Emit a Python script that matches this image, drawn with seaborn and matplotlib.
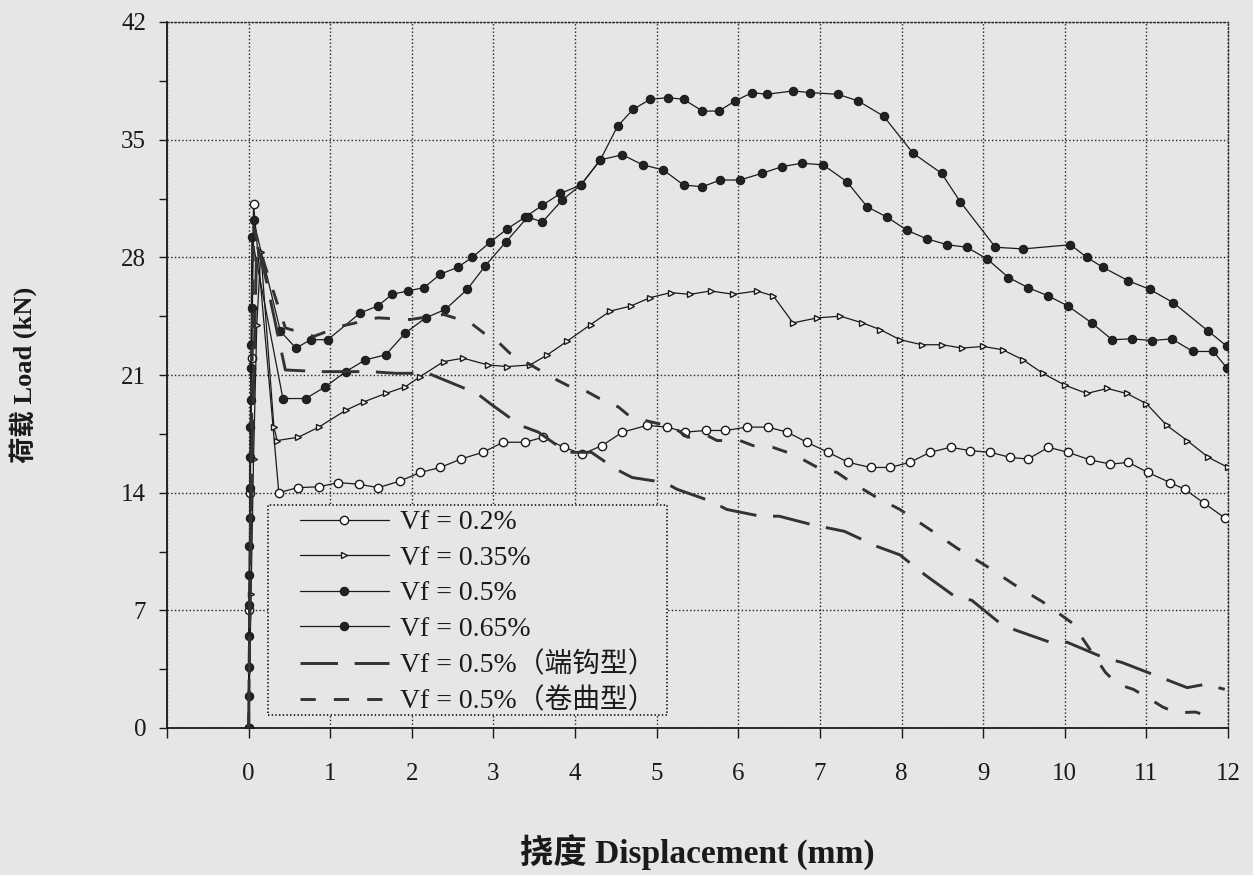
import matplotlib
matplotlib.use("Agg")
import matplotlib.pyplot as plt
import seaborn as sns
import pandas as pd
from matplotlib.patches import Rectangle

# ---------------- data ----------------
labels = ["Vf = 0.2%", "Vf = 0.35%", "Vf = 0.5%", "Vf = 0.65%",
          "Vf = 0.5%\uff08端钩型\uff09", "Vf = 0.5%\uff08卷曲型\uff09"]

x_02 = [0, 0.01, 0.02, 0.04, 0.06, 0.37, 0.6, 0.86, 1.1, 1.35, 1.59, 1.86, 2.1, 2.35, 2.6, 2.87,
        3.12, 3.39, 3.61, 3.86, 4.09, 4.33, 4.58, 4.88, 5.13, 5.35, 5.6, 5.84, 6.11, 6.36, 6.6,
        6.84, 7.1, 7.35, 7.62, 7.86, 8.1, 8.35, 8.6, 8.84, 9.09, 9.33, 9.55, 9.8, 10.04, 10.31,
        10.56, 10.78, 11.02, 11.29, 11.47, 11.7, 11.96]
y_02 = [0, 7, 14, 22, 31.2, 14.0, 14.3, 14.35, 14.6, 14.5, 14.3, 14.7, 15.2, 15.5, 16.0, 16.4,
        17.0, 17.0, 17.3, 16.7, 16.3, 16.8, 17.6, 18.0, 17.9, 17.6, 17.7, 17.7, 17.9, 17.9, 17.6,
        17.0, 16.4, 15.8, 15.5, 15.5, 15.8, 16.4, 16.7, 16.5, 16.4, 16.1, 16.0, 16.7, 16.4, 15.95,
        15.7, 15.8, 15.2, 14.6, 14.2, 13.4, 12.5]

x_035 = [0, 0.03, 0.06, 0.1, 0.15, 0.31, 0.35, 0.61, 0.86, 1.19, 1.41, 1.68, 1.92, 2.1, 2.39,
         2.63, 2.93, 3.17, 3.45, 3.66, 3.9, 4.19, 4.43, 4.68, 4.92, 5.17, 5.41, 5.66, 5.94, 6.23,
         6.43, 6.67, 6.97, 7.25, 7.52, 7.74, 7.98, 8.25, 8.5, 8.74, 9.0, 9.24, 9.49, 9.73, 10.0,
         10.27, 10.52, 10.76, 11.0, 11.25, 11.5, 11.76, 12.0]
y_035 = [0, 8, 16, 24, 28.3, 17.9, 17.1, 17.3, 17.9, 18.9, 19.4, 19.9, 20.3, 20.9, 21.8,
         22.0, 21.6, 21.5, 21.6, 22.2, 23.0, 24.0, 24.8, 25.1, 25.6, 25.9, 25.8, 26.0, 25.8, 26.0,
         25.7, 24.1, 24.4, 24.5, 24.1, 23.7, 23.1, 22.8, 22.8, 22.6, 22.7, 22.5, 21.9, 21.1, 20.4,
         19.9, 20.2, 19.9, 19.3, 18.0, 17.1, 16.1, 15.5]

x_05 = [0, 0.0, 0.005, 0.01, 0.015, 0.02, 0.03, 0.04, 0.06, 0.39, 0.58, 0.76, 0.97, 1.37, 1.58,
        1.76, 1.95, 2.15, 2.35, 2.56, 2.74, 2.96, 3.17, 3.39, 3.6, 3.82, 4.07, 4.31, 4.58, 4.83,
        5.08, 5.33, 5.56, 5.78, 6.02, 6.29, 6.54, 6.78, 7.04, 7.33, 7.58, 7.82, 8.07, 8.31, 8.56,
        8.8, 9.05, 9.31, 9.55, 9.8, 10.04, 10.33, 10.58, 10.82, 11.07, 11.31, 11.57, 11.82, 11.99]
y_05 = [0, 3.6, 7.3, 10.8, 14.3, 17.9, 21.4, 25.0, 30.2, 23.6, 22.6, 23.1, 23.1, 24.7, 25.1,
        25.8, 26.0, 26.2, 27.0, 27.4, 28.0, 28.9, 29.7, 30.4, 31.1, 31.8, 32.3, 33.8, 34.1, 33.5,
        33.2, 32.3, 32.2, 32.6, 32.6, 33.0, 33.4, 33.6, 33.5, 32.5, 31.0, 30.4, 29.6, 29.1, 28.75,
        28.6, 27.9, 26.8, 26.2, 25.7, 25.1, 24.1, 23.1, 23.15, 23.05, 23.15, 22.4, 22.4, 21.4]

x_065 = [0, 0.0, 0.005, 0.01, 0.015, 0.02, 0.025, 0.03, 0.04, 0.42, 0.7, 0.94, 1.19, 1.43, 1.68,
         1.92, 2.17, 2.41, 2.68, 2.9, 3.15, 3.42, 3.6, 3.84, 4.07, 4.31, 4.52, 4.71, 4.92, 5.14,
         5.33, 5.56, 5.76, 5.96, 6.17, 6.35, 6.67, 6.88, 7.22, 7.47, 7.78, 8.14, 8.49, 8.72, 9.15,
         9.49, 10.07, 10.27, 10.47, 10.78, 11.04, 11.33, 11.76, 11.99]
y_065 = [0, 1.9, 5.5, 9.1, 12.5, 16.1, 19.5, 22.8, 29.2, 19.6, 19.6, 20.3, 21.2, 21.9, 22.2,
         23.5, 24.4, 24.9, 26.1, 27.5, 28.9, 30.4, 30.1, 31.4, 32.3, 33.8, 35.8, 36.8, 37.4, 37.5,
         37.4, 36.7, 36.7, 37.3, 37.8, 37.7, 37.9, 37.8, 37.7, 37.3, 36.4, 34.2, 33.0, 31.3, 28.6,
         28.5, 28.75, 28.0, 27.4, 26.6, 26.1, 25.3, 23.6, 22.7]

x_hook = [0, 0.03, 0.1, 0.2, 0.45, 0.88, 1.1, 1.5, 1.8, 2.2, 2.4, 2.8, 2.96, 3.33, 3.55, 3.9,
          4.2, 4.5, 4.7, 5.1, 5.25, 5.66, 5.86, 6.27, 6.5, 6.9, 7.3, 7.7, 7.98, 8.29, 8.66, 8.86,
          9.24, 9.41, 9.82, 10.03, 10.47, 10.7, 11.5, 11.72, 11.96]
y_hook = [0, 14, 28.8, 27.0, 21.3, 21.2, 21.2, 21.2, 21.1, 21.1, 20.7, 19.9, 19.3, 18.0, 17.6, 16.4,
          16.4, 15.4, 14.9, 14.6, 14.2, 13.5, 13.0, 12.6, 12.6, 12.1, 11.7, 10.8, 10.3, 9.1, 7.8, 7.6,
          6.1, 5.8, 5.1, 5.1, 4.2, 3.9, 2.4, 2.6, 2.3]

x_crimp = [0, 0.03, 0.06, 0.2, 0.45, 0.8, 1.13, 1.58, 1.98, 2.39, 2.72, 2.88, 3.05, 3.2, 3.78,
           3.94, 4.15, 4.3, 4.53, 4.68, 5.2, 5.38, 5.62, 5.74, 6.02, 6.18, 6.42, 6.6, 6.8, 6.97,
           7.21, 7.33, 7.53, 7.7, 7.98, 8.35, 8.68, 9.05, 9.39, 9.73, 10.09, 10.5, 10.65, 10.84,
           11.0, 11.2, 11.37, 11.6, 11.8]
y_crimp = [0, 15, 29.8, 27.5, 23.8, 23.3, 23.9, 24.4, 24.3, 24.6, 24.1, 23.5, 23.0, 22.3, 20.7,
           20.3, 20.0, 19.6, 19.1, 18.5, 17.9, 17.3, 17.4, 17.1, 17.1, 16.8, 16.7, 16.4, 15.95, 15.5,
           15.2, 14.8, 14.2, 13.7, 13.0, 11.8, 10.7, 9.6, 8.5, 7.5, 6.25, 3.3, 2.6, 2.3,
           1.85, 1.25, 0.9, 0.95, 0.65]

x_ticks = list(range(-1, 13))
x_tick_labels = [""] + [str(v) for v in range(0, 13)]
y_ticks = [0, 7, 14, 21, 28, 35, 42]

# ---------------- style ----------------
sns.set_theme(style="ticks")
plt.rcParams["font.family"] = ["Liberation Serif", "Noto Sans CJK SC"]
plt.rcParams["lines.scale_dashes"] = False
plt.rcParams["axes.unicode_minus"] = False

BG = "#e6e6e6"
W, H = 1253, 875
fig = plt.figure(figsize=(W / 100, H / 100), dpi=100, facecolor=BG)
ax_l, ax_r, ax_t, ax_b = 167, 1228, 22, 728
ax = fig.add_axes([ax_l / W, 1 - ax_b / H, (ax_r - ax_l) / W, (ax_b - ax_t) / H])
ax.set_facecolor(BG)

specs = [
    (x_02, y_02, dict(marker="o", markersize=6, markerfacecolor="white", markeredgecolor="k",
                      markeredgewidth=1.0, lw=0.9, color="k", linestyle="-")),
    (x_035, y_035, dict(marker=">", markersize=5, markerfacecolor="white", markeredgecolor="k",
                        markeredgewidth=1.0, lw=0.9, color="k", linestyle="-")),
    (x_05, y_05, dict(marker="o", markersize=6, markerfacecolor="#222", markeredgecolor="k",
                      markeredgewidth=0.8, lw=0.9, color="k", linestyle="-")),
    (x_065, y_065, dict(marker="o", markersize=6, markerfacecolor="#222", markeredgecolor="k",
                        markeredgewidth=0.8, lw=0.9, color="k", linestyle="-")),
    (x_hook, y_hook, dict(lw=2.1, color="#333333", linestyle=(0, (27, 12)))),
    (x_crimp, y_crimp, dict(lw=2.1, color="#333333", linestyle=(0, (11, 13)))),
]

for (xs, ys, kw), lab in zip(specs, labels):
    df = pd.DataFrame({"x": xs, "y": ys})
    sns.lineplot(data=df, x="x", y="y", ax=ax, sort=False, estimator=None,
                 label=lab, zorder=3, **kw)

# ---------------- axes ----------------
ax.set_xlim(-1, 12)
ax.set_ylim(0, 42)
ax.set_xticks(x_ticks)
ax.set_xticklabels(x_tick_labels)
ax.set_yticks(y_ticks)
ax.set_yticks([3.5, 10.5, 17.5, 24.5, 31.5, 38.5], minor=True)
ax.tick_params(axis="x", which="major", direction="out", length=7, width=1, color="k",
               labelsize=18, labelcolor="k", pad=18)
ax.tick_params(axis="y", which="both", direction="out", length=6, width=1, color="k",
               labelsize=18, labelcolor="k", pad=9)
ax.grid(True, which="major", linestyle=":", linewidth=1.0, color="#222")

for s in ("left", "bottom"):
    ax.spines[s].set_color("k")
    ax.spines[s].set_linewidth(1.3)
for s in ("top", "right"):
    ax.spines[s].set_color("#222")
    ax.spines[s].set_linestyle(":")
    ax.spines[s].set_linewidth(1.0)

ax.set_xlabel("挠度 Displacement (mm)", fontsize=24, fontweight="bold", color="k")
ax.set_ylabel("荷载 Load (kN)", fontsize=19, fontweight="bold", color="k")
ax.xaxis.set_label_coords(0.5, (ax_b - 835) / (ax_b - ax_t))
ax.yaxis.set_label_coords((37 - ax_l) / (ax_r - ax_l), 0.5)

# ---------------- legend ----------------
handles, labs = ax.get_legend_handles_labels()
leg = ax.legend(handles, labs, loc="upper left",
                bbox_to_anchor=(300 / W, 1 - 510 / H), bbox_transform=fig.transFigure,
                frameon=False, fontsize=20, handlelength=3.2, handletextpad=0.4,
                labelspacing=0.36, borderpad=0, borderaxespad=0)
leg.set_zorder(6)
for t in leg.get_texts():
    t.set_color("k")

box = Rectangle((268 / W, 1 - 715 / H), (667 - 268) / W, (715 - 505) / H,
                transform=fig.transFigure, facecolor=BG, linestyle=":", linewidth=1.3,
                edgecolor="k", zorder=4, clip_on=False)
ax.add_patch(box)

fig.savefig("out.png", dpi=100, facecolor=BG)
